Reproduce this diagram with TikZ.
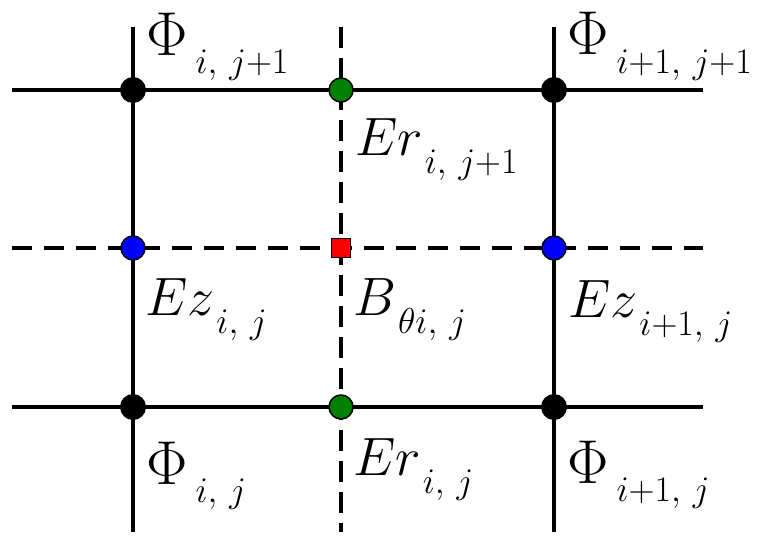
\RequirePackage{fix-cm}
\documentclass[tikz,border=0pt]{standalone}
\usepackage{tikz}
\usetikzlibrary{positioning}
\definecolor{ErGreen}{RGB}{0,128,0}
\definecolor{EzBlue}{RGB}{0,0,255}
\definecolor{BRed}{RGB}{255,0,0}
\newcommand{\sublab}[1]{\raisebox{-18pt}{\fontsize{36}{38}\selectfont$#1$}}
\newcommand{\fieldlab}[2]{{\fontsize{54}{56}\selectfont$#1$}\kern2pt\sublab{#2}}
\newcommand{\philab}[1]{{\fontsize{62}{64}\selectfont$\Phi$}\kern8pt\sublab{#1}}
\newcommand{\cm}{,\,}

\begin{document}
\begin{tikzpicture}[x=1pt, y=-1pt,
            wire/.style={draw, line width=4pt, black},
            hdash/.style={draw, line width=4pt, black, dash pattern=on 20pt off 12pt},
            vdash/.style={draw, line width=4pt, black, dash pattern=on 21pt off 10pt},
            phidot/.style={circle, fill=black, inner sep=0pt, minimum size=26pt},
            erdot/.style={circle, draw=black, line width=1.5pt, fill=ErGreen, inner sep=0pt, minimum size=24pt},
            ezdot/.style={circle, draw=black, line width=1.5pt, fill=EzBlue, inner sep=0pt, minimum size=24pt},
            bsquare/.style={rectangle, draw=black, line width=1.2pt, fill=BRed, inner sep=0pt, minimum size=19pt},
            fieldlabel/.style={anchor=base west, inner sep=0pt, black}
        ]
            \useasboundingbox (0,0) rectangle (767,535);

            % Line ends
            \coordinate (top1) at (133,27);  \coordinate (bot1) at (133,532);
            \coordinate (topm) at (341,27);  \coordinate (botm) at (341,532);
            \coordinate (top2) at (554,27);  \coordinate (bot2) at (554,532);
            \coordinate (lefttop) at (12,90);   \coordinate (righttop) at (703,90);
            \coordinate (leftmid) at (12,248);  \coordinate (rightmid) at (703,248);
            \coordinate (leftbot) at (12,407);  \coordinate (rightbot) at (703,407);

            % Grid
            \draw [wire] (top1) -- (bot1);
            \draw [wire] (top2) -- (bot2);
            \draw [wire] (lefttop) -- (righttop);
            \draw [wire] (leftbot) -- (rightbot);
            \draw [vdash] (topm) -- (botm);
            \draw [hdash] (leftmid) -- (rightmid);

            % Field points
            \node (phiA) at (133,90) [phidot] {};
            \node (phiB) at (554,90) [phidot] {};
            \node (phiC) at (133,407) [phidot] {};
            \node (phiD) at (554,407) [phidot] {};
            \node (erA) at (341,90) [erdot] {};
            \node (erB) at (341,407) [erdot] {};
            \node (ezA) at (133,248) [ezdot] {};
            \node (ezB) at (554,248) [ezdot] {};
            \node (bth) at (341,248) [bsquare] {};

            % Labels
            \node (labphiA) at (146,56) [fieldlabel] {\philab{i\cm j{+}1}};
            \node (labphiB) at (567,55) [fieldlabel] {\philab{i{+}1\cm j{+}1}};
            \node (laberA) at (355,155) [fieldlabel] {\fieldlab{Er}{i\cm j{+}1}};
            \node (labezA) at (145,315) [fieldlabel] {\fieldlab{Ez}{i\cm j}};
            \node (labbth) at (353,315) [fieldlabel] {\fieldlab{B}{\theta i\cm j}};
            \node (labezB) at (568,317) [fieldlabel] {\fieldlab{Ez}{i{+}1\cm j}};
            \node (labphiC) at (146,484) [fieldlabel] {\philab{i\cm j}};
            \node (laberB) at (353,475) [fieldlabel] {\fieldlab{Er}{i\cm j}};
            \node (labphiD) at (567,483) [fieldlabel] {\philab{i{+}1\cm j}};
        \end{tikzpicture}
\end{document}
